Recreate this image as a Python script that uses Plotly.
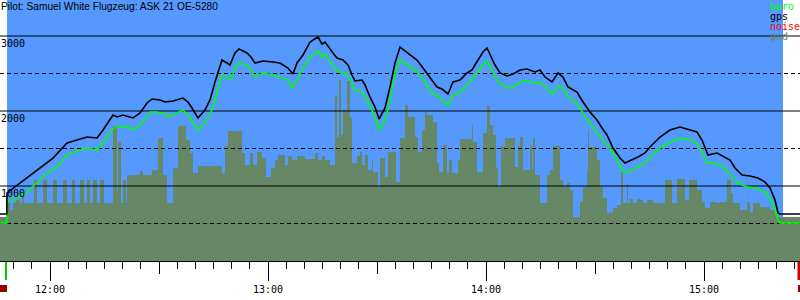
import plotly.graph_objects as go
import pandas as pd

BASE = pd.Timestamp("2000-01-01 12:00:00")

# ---- data (time in minutes relative to 12:00, altitude in metres) ----
gps_t = [-13.76, -11.9, -11.83, -8.26, -4.68, -1.93, 0.83, 4.68, 7.43, 10.18,
         12.94, 14.59, 17.34, 18.44, 20.09, 22.84, 24.77, 26.70, 28.07, 30.28,
         31.65, 33.85, 36.61, 37.98, 39.08, 40.73, 42.66, 44.04, 45.41, 47.34,
         48.72, 49.54, 50.92, 52.02, 54.22, 55.32, 56.42, 58.62, 61.38, 63.30,
         65.50, 66.88, 67.98, 69.63, 71.56, 73.76, 74.86, 75.69, 77.89, 78.99,
         80.64, 82.02, 83.12, 83.94, 85.87, 86.70, 88.07, 89.45, 90.55, 92.20,
         93.58, 94.95, 96.33, 97.71, 99.08, 101.01, 102.66, 104.59, 106.51, 107.89,
         109.54, 110.92, 112.84, 114.77, 116.15, 117.80, 119.17, 120.28, 121.65, 122.48,
         123.85, 125.78, 127.43, 129.36, 131.28, 133.49, 134.86, 136.24, 138.17, 139.82,
         141.19, 142.57, 145.05, 146.70, 148.62, 150.55, 151.93, 153.30, 154.95, 156.88,
         158.26, 160.18, 161.83, 163.76, 165.14, 167.89, 170.64, 173.39, 176.15, 178.07,
         179.45, 180.28, 181.10, 183.58, 185.78, 187.16, 188.53, 190.46, 192.66, 194.86,
         196.79, 198.17, 199.54, 200.37, 200.92, 206.42]
gps_alt = [627, 627, 907, 1040, 1173, 1280, 1373, 1573, 1613, 1653,
           1640, 1747, 1947, 1920, 1947, 1907, 1973, 2107, 2160, 2147,
           2120, 2133, 2173, 2120, 2040, 1907, 2013, 2147, 2387, 2680,
           2640, 2613, 2773, 2827, 2773, 2720, 2640, 2667, 2653, 2640,
           2573, 2493, 2640, 2747, 2920, 2987, 2893, 2920, 2773, 2707,
           2680, 2613, 2480, 2400, 2413, 2347, 2187, 2053, 1893, 2040,
           2320, 2640, 2853, 2800, 2747, 2680, 2573, 2440, 2320, 2293,
           2227, 2387, 2413, 2507, 2547, 2680, 2787, 2840, 2707, 2613,
           2507, 2467, 2493, 2547, 2560, 2520, 2547, 2453, 2387, 2507,
           2453, 2320, 2253, 2120, 1987, 1880, 1773, 1680, 1507, 1373,
           1307, 1347, 1387, 1440, 1520, 1653, 1747, 1787, 1747, 1720,
           1613, 1507, 1413, 1440, 1387, 1347, 1240, 1147, 1133, 1107,
           1053, 973, 813, 640, 627, 627]

baro_t = [-13.76, -11.9, -11.83, -10.18, -6.33, -3.58, -0.83, 1.93, 4.68, 7.43,
          10.18, 12.94, 14.59, 16.51, 18.44, 21.19, 23.39, 25.60, 27.52, 29.45,
          31.65, 32.20, 34.40, 36.61, 37.98, 39.36, 40.73, 42.66, 44.59, 45.96,
          47.34, 48.72, 49.82, 50.92, 52.02, 54.22, 55.32, 56.42, 58.62, 61.38,
          63.30, 65.50, 66.61, 67.98, 69.63, 71.56, 73.76, 74.86, 75.69, 76.24,
          77.89, 79.82, 81.74, 83.12, 83.94, 85.87, 87.25, 88.62, 89.45, 90.55,
          92.20, 93.58, 94.95, 96.33, 97.71, 99.63, 101.28, 103.21, 104.59, 106.51,
          108.17, 109.54, 110.92, 112.84, 114.77, 116.42, 118.35, 120.28, 121.65, 122.48,
          123.85, 125.78, 127.43, 129.36, 131.28, 133.49, 134.86, 136.79, 138.44, 139.82,
          141.19, 142.57, 145.05, 146.70, 148.62, 150.55, 152.20, 154.13, 156.06, 157.71,
          159.08, 161.01, 163.76, 165.14, 167.89, 170.64, 173.39, 176.15, 178.07, 179.45,
          180.83, 182.20, 183.58, 185.78, 187.71, 189.36, 191.83, 194.04, 196.24, 198.17,
          199.54, 200.37, 200.92, 206.42]
baro_alt = [507, 507, 813, 813, 920, 1040, 1173, 1253, 1413, 1467,
            1507, 1480, 1573, 1720, 1800, 1787, 1760, 1853, 1987, 1987,
            1960, 1920, 1960, 2013, 1947, 1840, 1747, 1853, 2013, 2253,
            2480, 2453, 2413, 2573, 2640, 2613, 2547, 2453, 2507, 2480,
            2453, 2413, 2307, 2413, 2573, 2720, 2800, 2720, 2760, 2733,
            2587, 2520, 2493, 2373, 2267, 2253, 2147, 2013, 1920, 1747,
            1880, 2147, 2507, 2680, 2640, 2573, 2520, 2387, 2267, 2200,
            2147, 2067, 2213, 2240, 2347, 2440, 2560, 2667, 2547, 2453,
            2373, 2307, 2320, 2387, 2400, 2373, 2387, 2307, 2227, 2333,
            2307, 2187, 2107, 1973, 1840, 1707, 1613, 1507, 1347, 1187,
            1187, 1240, 1307, 1387, 1507, 1587, 1640, 1613, 1573, 1453,
            1307, 1307, 1293, 1240, 1120, 1040, 987, 973, 933, 840,
            680, 547, 507, 507]

gnd_t = [-13.76, -11.83, -11.01, -10.18, -9.36, -8.26, -7.71, -7.16, -4.40, -3.58,
         -1.93, -0.83, 0.83, 1.93, 3.58, 4.68, 6.06, 6.88, 8.26, 9.36,
         10.18, 11.01, 11.83, 12.94, 13.76, 14.86, 17.34, 18.44, 18.72, 19.54,
         20.09, 20.92, 21.19, 24.77, 25.60, 28.07, 29.72, 31.10, 32.20, 33.85,
         35.23, 37.43, 38.53, 39.36, 40.73, 47.34, 48.17, 48.99, 52.84, 53.67,
         55.05, 55.87, 56.97, 58.35, 59.45, 60.83, 61.93, 62.75, 64.68, 65.50,
         66.61, 67.98, 70.18, 72.94, 73.76, 74.86, 75.69, 77.06, 78.44, 78.99,
         79.54, 80.09, 80.64, 81.74, 82.57, 83.12, 84.50, 85.32, 85.87, 86.70,
         87.52, 88.62, 88.90, 90.28, 90.83, 92.20, 93.03, 95.23, 96.33, 97.71,
         98.53, 100.46, 101.28, 102.39, 103.21, 103.76, 105.41, 106.51, 107.06, 108.17,
         109.27, 109.82, 110.64, 112.29, 112.84, 116.15, 116.42, 117.52, 118.35, 119.17,
         120.28, 121.10, 121.93, 122.75, 123.30, 124.13, 125.23, 127.98, 128.81, 129.36,
         130.18, 132.11, 132.66, 132.94, 133.49, 134.86, 136.79, 137.61, 138.44, 140.37,
         141.19, 142.29, 143.12, 143.94, 145.87, 146.70, 147.80, 148.07, 148.35, 150.55,
         151.38, 152.20, 153.30, 154.13, 154.95, 156.06, 157.16, 157.71, 158.81, 159.08,
         159.63, 160.46, 161.56, 162.39, 163.21, 164.31, 165.96, 169.27, 171.19, 172.57,
         174.77, 175.87, 178.07, 179.45, 180.28, 181.65, 183.58, 184.40, 186.33, 187.43,
         187.98, 189.91, 191.83, 192.66, 193.48, 195.43, 198.17, 199.54, 200.37, 206.42]
gnd_alt = [587, 773, 680, 773, 813, 773, 867, 773, 1080, 773,
           1080, 773, 1080, 773, 1080, 773, 1080, 773, 1080, 773,
           1080, 773, 1080, 773, 1080, 773, 1800, 947, 1587, 773,
           1080, 773, 1147, 1200, 1147, 1213, 1640, 1147, 773, 1240,
           1800, 1613, 1440, 1173, 1267, 1173, 1533, 1733, 1440, 1280,
           1440, 1280, 1453, 1373, 1120, 1240, 1347, 1413, 1280, 1400,
           1347, 1400, 1360, 1440, 1347, 1400, 1347, 1280, 2213, 1653,
           2413, 1680, 2013, 2400, 1920, 1307, 1400, 1453, 1280, 1413,
           1213, 1347, 1187, 987, 1373, 1120, 1453, 1053, 1640, 2080,
           1920, 1653, 1453, 1747, 1987, 1947, 1853, 1307, 1187, 1547,
           1173, 1347, 1173, 1347, 1627, 1813, 1587, 1187, 1187, 1707,
           2067, 1813, 1680, 1240, 987, 1533, 1640, 1253, 1533, 1653,
           1213, 1533, 1213, 1640, 1147, 773, 1147, 1213, 1533, 1080,
           987, 1040, 947, 587, 787, 987, 1187, 1747, 1520, 1347,
           987, 840, 640, 653, 707, 747, 1187, 773, 1040, 773,
           827, 773, 827, 813, 773, 813, 773, 1080, 773, 1093,
           813, 1080, 947, 787, 707, 787, 773, 787, 1080, 907,
           773, 680, 787, 653, 773, 720, 680, 613, 587, 587]

grid_solid = [1000, 2000, 3000]
grid_dashed = [500, 1500, 2500]
y_labels = [1000, 2000, 3000]
legend_names = ["baro", "gps", "noise", "gnd"]
legend_colors = ["#00ff00", "#000000", "#ff0000", "#668866"]
title_text = "Pilot: Samuel White Flugzeug: ASK 21 OE-5280"
flight_window = [-11.83, 201.74]
x_window = [-13.76, 206.42]
y_window = [0, 3480]

assert len(gps_t) == len(gps_alt)
assert len(baro_t) == len(baro_alt)
assert len(gnd_t) == len(gnd_alt)


def to_time(mins):
    return [BASE + pd.Timedelta(minutes=float(m)) for m in mins]


MONO = "DejaVu Sans Mono"
fig = go.Figure()

fig.add_trace(go.Scatter(x=to_time(gnd_t), y=gnd_alt, mode="lines",
                         line=dict(shape="hv", width=0, color="#668866"),
                         fill="tozeroy", fillcolor="#668866",
                         hoverinfo="skip", showlegend=False))

xr = to_time(x_window)
for lvl in grid_solid:
    fig.add_trace(go.Scatter(x=xr, y=[lvl, lvl], mode="lines",
                             line=dict(color="black", width=1),
                             hoverinfo="skip", showlegend=False))
for lvl in grid_dashed:
    fig.add_trace(go.Scatter(x=xr, y=[lvl, lvl], mode="lines",
                             line=dict(color="black", width=1, dash="4px,3px"),
                             hoverinfo="skip", showlegend=False))

fig.add_trace(go.Scatter(x=to_time(baro_t), y=baro_alt, mode="lines",
                         line=dict(color="#00ff00", width=1.6),
                         showlegend=False))
fig.add_trace(go.Scatter(x=to_time(gps_t), y=gps_alt, mode="lines",
                         line=dict(color="black", width=1.6),
                         showlegend=False))
# helper trace so the hour axis (x2) is rendered
fig.add_trace(go.Scatter(x=to_time([0]), y=[0], xaxis="x2", mode="markers",
                         marker=dict(opacity=0), hoverinfo="skip", showlegend=False))

shapes = [
    dict(type="rect", xref="x", yref="paper",
         x0=to_time([flight_window[0]])[0], x1=to_time([flight_window[1]])[0],
         y0=0, y1=1, fillcolor="#5599ff", line=dict(width=0), layer="below"),
    # takeoff / end markers below the axis
    dict(type="rect", xref="paper", yref="paper", x0=5/800, x1=7/800,
         y0=-1/261, y1=-19/261, fillcolor="#00cc00", line=dict(width=0)),
    dict(type="rect", xref="paper", yref="paper", x0=797.5/800, x1=1,
         y0=-1/261, y1=-19/261, fillcolor="#cc0000", line=dict(width=0)),
    dict(type="rect", xref="paper", yref="paper", x0=0, x1=7/800,
         y0=-24/261, y1=-31/261, fillcolor="#990000", line=dict(width=0)),
    dict(type="rect", xref="paper", yref="paper", x0=798/800, x1=1,
         y0=-24/261, y1=-31/261, fillcolor="#990000", line=dict(width=0)),
]

annotations = [dict(text=title_text, x=0, xref="paper", xanchor="left",
                    y=(261 - 6.5) / 261, yref="paper", yanchor="middle",
                    showarrow=False, borderpad=0,
                    font=dict(family="Liberation Sans", size=10.2, color="black"))]
for lbl in y_labels:
    annotations.append(dict(text=str(lbl), x=0, xref="paper", xanchor="left",
                            y=lbl, yref="y", yanchor="top", yshift=-1,
                            showarrow=False, borderpad=0,
                            font=dict(family=MONO, size=10, color="black")))
for i, (name, col) in enumerate(zip(legend_names, legend_colors)):
    annotations.append(dict(text=name, x=769/800, xref="paper", xanchor="left",
                            y=(261 - (6.5 + 10 * i)) / 261, yref="paper",
                            yanchor="middle", showarrow=False, borderpad=0,
                            font=dict(family=MONO, size=10, color=col)))

fig.update_layout(
    width=800, height=300,
    margin=dict(l=0, r=0, t=0, b=39),
    paper_bgcolor="white", plot_bgcolor="white",
    showlegend=False,
    shapes=shapes, annotations=annotations,
    xaxis=dict(type="date", range=xr, tickmode="linear", tick0=BASE,
               dtick=30 * 60 * 1000, ticks="outside", ticklen=12,
               tickcolor="black", tickwidth=1, showticklabels=False,
               showgrid=False, zeroline=False, showline=True,
               linecolor="black", linewidth=1,
               minor=dict(tick0=BASE, dtick=5 * 60 * 1000, ticks="outside",
                          ticklen=7, tickcolor="black", tickwidth=1,
                          showgrid=False)),
    xaxis2=dict(type="date", overlaying="x", matches="x", anchor="y",
                side="bottom", tickmode="linear", tick0=BASE,
                dtick=60 * 60 * 1000, ticks="outside", ticklen=19,
                tickcolor="black", tickwidth=1, tickformat="%H:%M",
                tickfont=dict(family=MONO, size=10, color="black"),
                showgrid=False, zeroline=False, showline=False),
    yaxis=dict(range=y_window, visible=False, showgrid=False, zeroline=False),
)

fig.write_html("out.html")
